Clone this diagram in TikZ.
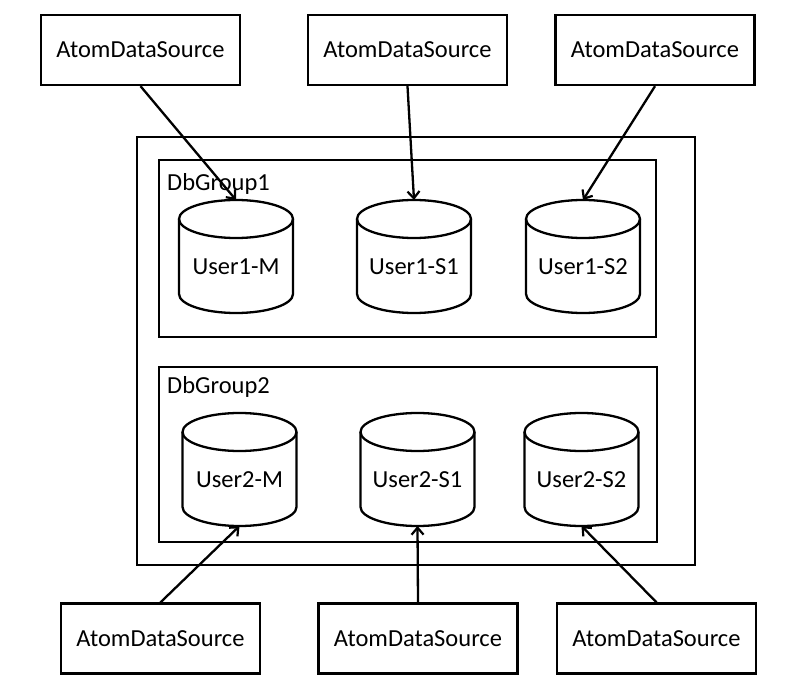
\documentclass[tikz,border=0pt]{standalone}
\usepackage{fontspec}
\setmainfont{Carlito}
\usetikzlibrary{arrows.meta,calc}
\tikzset{
  srcbox/.style={draw, line width=2.3pt, minimum width=199pt, minimum height=70pt, inner sep=0pt, font=\fontsize{24.5}{27}\selectfont},
  frame/.style={draw, line width=2.4pt},
  grouplbl/.style={anchor=west, inner sep=0pt, font=\fontsize{24.5}{27}\selectfont},
  cyltxt/.style={inner sep=0pt, font=\fontsize{24.5}{27}\selectfont},
  cylline/.style={draw, line width=2.3pt},
  conn/.style={line width=2.3pt, -{Straight Barb[length=7pt,width=12pt,line width=2.2pt]}},
}
% name, center x, top y, text
\newcommand{\dbcyl}[4]{%
  \coordinate (#1top) at (#2,#3);
  \coordinate (#1bot) at (#2,#3+113);
  \draw[cylline] ($(#1top)+(0,19)$) ellipse [x radius=57pt, y radius=19pt];
  \draw[cylline] ($(#1top)+(-57,19)$) -- ($(#1bot)+(-57,-19)$)
     arc[start angle=180, end angle=360, x radius=57pt, y radius=19pt]
     -- ($(#1top)+(57,19)$);
  \node[cyltxt] (#1) at ($(#1top)+(0,67)$) {#4};
}
\begin{document}
\begin{tikzpicture}[x=1pt,y=-1pt]
\useasboundingbox (0,0) rectangle (800,692);
\fill[white] (0,0) rectangle (800,692);
% frames
\draw[frame, line width=2.6pt] (137,137) rectangle (695,565);
\draw[frame] (159,160) rectangle (656,337);
\draw[frame] (159,367) rectangle (657,542);
\node[grouplbl] (g1) at (167,184) {DbGroup1};
\node[grouplbl] (g2) at (167,387) {DbGroup2};
% cylinders
\dbcyl{u1m}{236}{200}{User1-M}
\dbcyl{u1s1}{414}{200}{User1-S1}
\dbcyl{u1s2}{583}{200}{User1-S2}
\dbcyl{u2m}{239.5}{413}{User2-M}
\dbcyl{u2s1}{417.5}{413}{User2-S1}
\dbcyl{u2s2}{581.5}{413}{User2-S2}
% sources
\node[srcbox] (t1) at (140.5,50) {AtomDataSource};
\node[srcbox] (t2) at (407.5,50) {AtomDataSource};
\node[srcbox] (t3) at (655,50) {AtomDataSource};
\node[srcbox] (b1) at (160.5,638.5) {AtomDataSource};
\node[srcbox] (b2) at (418,638.5) {AtomDataSource};
\node[srcbox] (b3) at (656.5,638.5) {AtomDataSource};
% connectors
\draw[conn] (t1.south) -- (u1mtop);
\draw[conn] (t2.south) -- (u1s1top);
\draw[conn] (t3.south) -- (u1s2top);
\draw[conn] (b1.north) -- (u2mbot);
\draw[conn] (b2.north) -- (u2s1bot);
\draw[conn] (b3.north) -- (u2s2bot);
\end{tikzpicture}
\end{document}
